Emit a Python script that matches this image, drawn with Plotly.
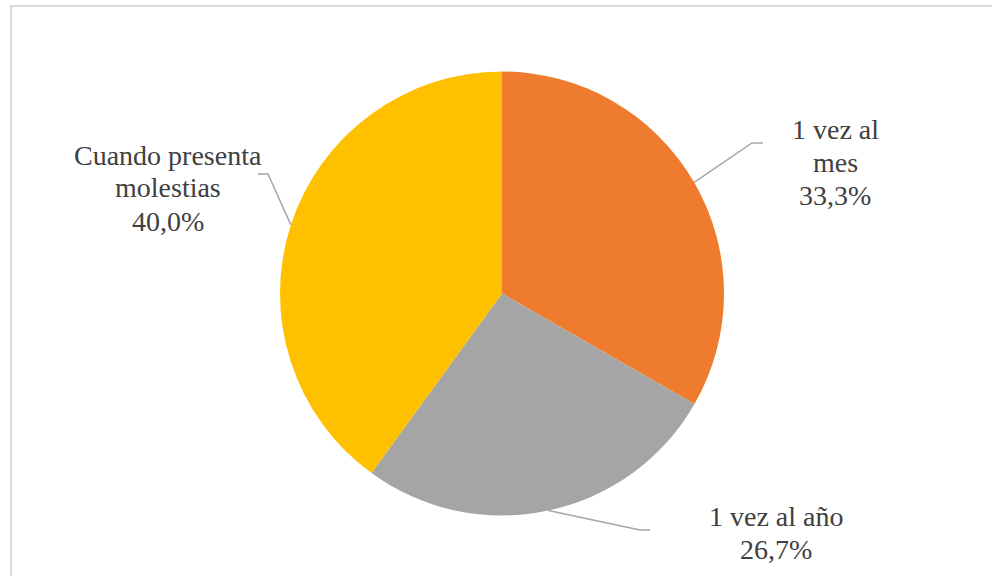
import math
import plotly.graph_objects as go

# Data
categories = ["1 vez al mes", "1 vez al año", "Cuando presenta molestias"]
percentages = [33.3, 26.7, 40.0]
label_lines = [["1 vez al", "mes"], ["1 vez al año"], ["Cuando presenta", "molestias"]]
colors = ["#EF7C2E", "#A5A5A5", "#FFC000"]

# Canvas geometry (pixels)
W, H = 992, 576
CX, CY, R = 502, 293.5, 222
SERIF = "Liberation Serif"
TEXT_SIZE = 28
TEXT_COLOR = "#404040"
LINE_GAP = 33

# Label placement: text centre x, first baseline y, leader elbow and tail
label_layout = [
    dict(cx=835, base=138, elbow=(752, 143), tail=(763, 143)),
    dict(cx=776, base=525, elbow=(640, 530), tail=(650, 530)),
    dict(cx=168, base=164, elbow=(268, 174), tail=(258, 174)),
]


def px(x):
    return x / W


def py(y):
    return 1 - y / H


fig = go.Figure()
fig.add_trace(
    go.Pie(
        labels=categories,
        values=percentages,
        sort=False,
        direction="clockwise",
        rotation=0,
        marker=dict(colors=colors, line=dict(width=0)),
        textinfo="none",
        hoverinfo="label+percent",
        showlegend=False,
        domain=dict(x=[px(CX - R), px(CX + R)], y=[py(CY + R), py(CY - R)]),
    )
)

# chart frame (top and left edges visible)
fig.add_shape(type="rect", xref="paper", yref="paper",
              x0=px(11), x1=1.05, y0=-0.05, y1=py(6),
              line=dict(color="#D9D9D9", width=2), fillcolor="rgba(0,0,0,0)", layer="below")

total = sum(percentages)
cum = 0.0
for lines, val, lay in zip(label_lines, percentages, label_layout):
    mid = (cum + val / 2) / total
    cum += val
    theta = 2 * math.pi * mid
    ex, ey = CX + R * math.sin(theta), CY - R * math.cos(theta)
    (bx, by), (tx, ty) = lay["elbow"], lay["tail"]
    path = f"M {px(ex)},{py(ey)} L {px(bx)},{py(by)} L {px(tx)},{py(ty)}"
    fig.add_shape(type="path", xref="paper", yref="paper", path=path,
                  line=dict(color="#A6A6A6", width=1.5))
    texts = lines + [f"{val:.1f}".replace(".", ",") + "%"]
    for i, t in enumerate(texts):
        base = lay["base"] + i * LINE_GAP
        fig.add_annotation(
            x=px(lay["cx"]), y=py(base - 9), xref="paper", yref="paper",
            text=f"<span style='font-family:{SERIF}'>{t}</span>",
            showarrow=False, xanchor="center", yanchor="middle",
            font=dict(family=SERIF, size=TEXT_SIZE, color=TEXT_COLOR),
        )

fig.update_layout(
    width=W, height=H,
    margin=dict(l=0, r=0, t=0, b=0),
    font=dict(family=SERIF, color=TEXT_COLOR),
    paper_bgcolor="white",
    plot_bgcolor="white",
)

fig.write_html("out.html")
